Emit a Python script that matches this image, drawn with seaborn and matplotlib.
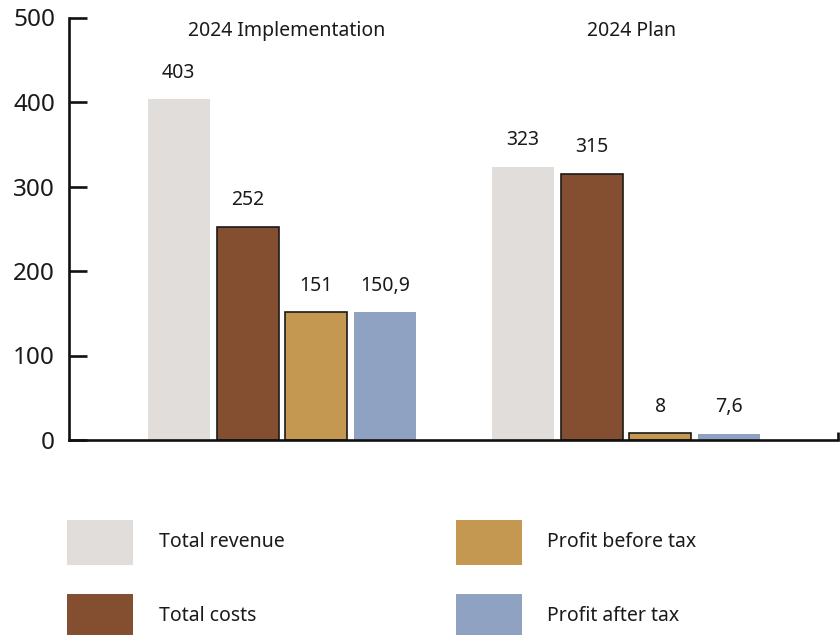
import matplotlib
matplotlib.use("Agg")
import matplotlib.pyplot as plt
from matplotlib.patches import Rectangle
import seaborn as sns
import pandas as pd

# Chart data
groups = ["2024 Implementation", "2024 Plan"]
metrics = ["Total revenue", "Total costs", "Profit before tax", "Profit after tax"]
implementation = [403, 252, 151, 150.9]
plan = [323, 315, 8, 7.6]
y_ticks = [0, 100, 200, 300, 400, 500]

colors = ["#E1DDDA", "#844F30", "#C49850", "#8FA2C1"]
edged = ["Total costs", "Profit before tax"]

df = pd.DataFrame({
    "group": [groups[0]] * 4 + [groups[1]] * 4,
    "metric": metrics * 2,
    "value": implementation + plan,
})

sns.set_theme(style="white")
plt.rcParams["font.family"] = ["Noto Sans", "DejaVu Sans"]

W, H = 840, 635
fig = plt.figure(figsize=(W / 100, H / 100), dpi=100)
ax = fig.add_axes([69 / W, 1 - 440 / H, (838 - 69) / W, (440 - 17.5) / H])

sns.barplot(data=df, x="group", y="value", hue="metric", hue_order=metrics,
            order=groups, palette=colors, saturation=1, width=0.8, gap=0.1,
            legend=False, ax=ax, linewidth=0)

for metric, cont in zip(metrics, ax.containers):
    for p in cont:
        if metric in edged:
            p.set_edgecolor("#1a1a1a")
            p.set_linewidth(1.2)
        else:
            p.set_linewidth(0)
    ax.bar_label(cont, labels=[f"{v:g}".replace(".", ",") for v in cont.datavalues],
                 padding=12, fontsize=14, color="#1a1a1a")

ax.set_xlim(-0.619, 1.616)
ax.set_ylim(0, 500)
ax.set_yticks(y_ticks)
ax.set_yticklabels([str(t) for t in y_ticks], fontsize=17.5, color="#1a1a1a")
ax.set_xticks([])
ax.set_xlabel("")
ax.set_ylabel("")

for side in ["top", "right"]:
    ax.spines[side].set_visible(False)
for side in ["left", "bottom"]:
    ax.spines[side].set_color("#111111")
    ax.spines[side].set_linewidth(1.9)
    ax.spines[side].set_zorder(1)
ax.tick_params(axis="y", left=True, direction="in", length=13, width=1.9,
               color="#111111", pad=10)

# small end mark on the right of the baseline
ax.plot([1, 1], [0, 0.018], transform=ax.transAxes, color="#111111",
        lw=1.9, clip_on=False, solid_capstyle="butt")

for i, g in enumerate(groups):
    ax.text(i + 0.015, 484, g, ha="center", va="center", fontsize=14, color="#1a1a1a")

# Legend built from the series names and colours
legend_pos = [(67, 520, 159), (67, 594, 159), (456, 520, 547), (456, 594, 547)]
for (sx, sy, tx), name, col in zip(legend_pos, metrics, colors):
    fig.add_artist(Rectangle((sx / W, 1 - (sy + 45) / H), 66 / W, 45 / H,
                             transform=fig.transFigure, facecolor=col, edgecolor="none"))
    fig.text(tx / W, 1 - (sy + 22) / H, name, ha="left", va="center",
             fontsize=14, color="#1a1a1a")

fig.savefig("out.png", dpi=100)
